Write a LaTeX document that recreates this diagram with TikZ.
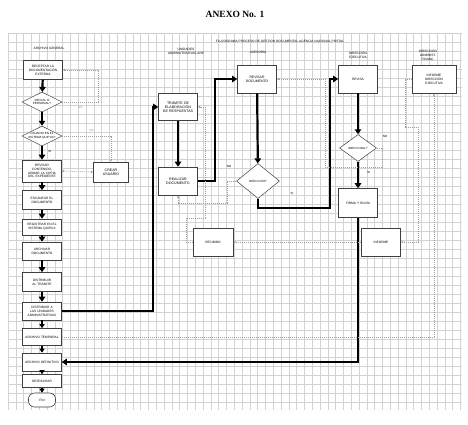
\documentclass[tikz,border=0pt]{standalone}
\usepackage{fontspec}
\setmainfont{Liberation Sans}
\newfontfamily\titulo{Liberation Serif}
\usetikzlibrary{shapes.geometric,arrows.meta}
\hyphenpenalty=10000
\exhyphenpenalty=10000
\tikzset{
  rejilla/.style={gray!35,line width=0.3pt},
  caja/.style={draw=black!75,fill=white,line width=0.6pt,align=center,
    minimum width=39pt,minimum height=19pt,text width=35pt,inner sep=0.5pt,
    font=\fontsize{3.2}{3.9}\selectfont},
  rombo/.style={diamond,draw=black!75,fill=white,line width=0.5pt,align=center,
    minimum width=40pt,minimum height=20pt,inner sep=0pt,aspect=2,
    font=\fontsize{3}{3.6}\selectfont},
  flujo/.style={line width=2.2pt,-{Triangle[length=5pt,width=6.5pt]}},
  flujom/.style={line width=1.4pt,-{Triangle[length=4pt,width=5pt]}},
  punt/.style={gray!75,line width=0.35pt,dash pattern=on 1.2pt off 0.8pt,
    -{Latex[length=2.2pt,width=2pt]}},
  etq/.style={font=\fontsize{3}{3.6}\selectfont},
  encab/.style={font=\fontsize{3.2}{3.9}\selectfont,align=center}
}
\begin{document}
\begin{tikzpicture}[x=1pt,y=-1pt]
\useasboundingbox[fill=white] (0,0) rectangle (468,424);
% rejilla de fondo
\foreach \gx in {8,15.8,...,462} \draw[rejilla] (\gx,33)--(\gx,410);
\foreach \gy in {33,42,...,410} \draw[rejilla] (8,\gy)--(462,\gy);
% titulos
\node (anexo) at (235,14) {\titulo\bfseries\fontsize{9.5}{11}\selectfont ANEXO No. 1};
\node[encab] (flujograma) at (280,41) {FLUJOGRAMA PROCESO DE GESTION DOCUMENTAL AGENCIA NACIONAL POSTAL};
\node[encab] (hArchivo) at (49,48) {ARCHIVO GENERAL};
\node[encab] (hUnidades) at (186,51) {UNIDADES\\ADMINISTRATIVAS ANP};
\node[encab] (hAsesoria) at (258,52) {ASESORÍA};
\node[encab] (hDireccion) at (358,55) {DIRECCIÓN\\EJECUTIVA};
\node[encab] (hFinanc) at (428,55) {DIRECCIÓN\\ADMINIST.\\FINANC.};
% archivo general
\node[caja] (rec) at (43,70) {RECEPTAR LA DOCUMENTACIÓN EXTERNA};
\node[rombo] (ofi) at (42,102) {OFICIAL O\\PERSONAL?};
\node[rombo] (usu) at (42,136) {USUARIO EN EL\\SISTEMA QUIPUX?};
\node[caja,minimum height=22pt] (revc) at (42,171) {REVISAR CONTENIDO, ARMAR LA COPIA DEL EXPEDIENTE};
\node[caja,minimum width=35pt,text width=30pt,minimum height=20pt,font=\fontsize{3.6}{4.4}\selectfont] (crear) at (111,172) {CREAR USUARIO};
\node[caja] (esc) at (42,200) {ESCANEAR EL DOCUMENTO};
\node[caja,minimum height=16pt] (reg) at (42,227) {REGISTRAR EN EL SISTEMA QUIPUX};
\node[caja,minimum height=18pt] (arch) at (42,251) {ARCHIVAR DOCUMENTO};
\node[caja] (dist) at (42,282) {DISTRIBUIR AL TRÁMITE};
\node[caja,minimum height=18pt] (distu) at (42,311) {DISTRIBUIR A LAS UNIDADES ADMINISTRATIVAS};
\node[caja,minimum height=17pt] (temp) at (42,337) {ARCHIVO TEMPORAL};
\node[caja,minimum height=18pt] (def) at (42,362) {ARCHIVO DEFINITIVO};
\node[caja,minimum height=13pt] (desp) at (42,381) {DESPACHAR};
\node[caja,rounded corners=6pt,minimum width=27pt,text width=20pt,minimum height=14pt] (fin) at (42,400) {FIN};
% unidades administrativas
\node[caja,minimum height=27pt,font=\fontsize{3.6}{4.4}\selectfont] (tram) at (178,107) {TRÁMITE DE ELABORACIÓN DE RESPUESTAS};
\node[caja,minimum height=28pt,font=\fontsize{3.6}{4.4}\selectfont] (real) at (178,181) {REALIZAR DOCUMENTO};
\node[caja,minimum width=40pt,minimum height=28pt] (recib) at (213,242) {RECIBIDO};
% asesoria
\node[caja,minimum height=28pt,font=\fontsize{3.4}{4.2}\selectfont] (revd) at (257,79) {REVISAR DOCUMENTO};
\node[rombo,minimum width=43pt,minimum height=35pt] (bno) at (258,181) {BIEN O NO?};
% direccion ejecutiva
\node[caja,minimum height=28pt] (revisa) at (358,79) {REVISA};
\node[rombo,minimum width=37pt,minimum height=27pt] (bmal) at (358,148) {BIEN O MAL?};
\node[caja,minimum height=29pt] (firma) at (358,203) {FIRMA Y ENVÍA};
\node[caja,minimum height=28pt] (inf) at (381,242) {INFORME};
% direccion administrativa financiera
\node[caja,minimum width=44pt,text width=22pt,minimum height=28pt] (infd) at (434,79) {INFORME DIRECCIÓN EJECUTIVA};
% flujo principal
\draw[flujo] (rec)--(ofi);
\draw[flujo] (ofi)--(usu);
\draw[flujo] (usu)--(revc) node[etq,pos=0.4,right=2pt]{SI};
\draw[flujo] (revc)--(esc);
\draw[flujo] (esc)--(reg);
\draw[flujo] (reg)--(arch);
\draw[flujo] (arch)--(dist);
\draw[flujo] (dist)--(distu);
\draw[flujom] (distu)--(temp);
\draw[flujom] (temp)--(def);
\draw[flujom] (def)--(desp);
\draw[flujom] (desp)--(fin);
\draw[punt] (ofi.east)--++(36,0) node[etq,pos=0.5,below=1pt]{NO} |- (rec.east);
\draw[punt] (usu.east) -| (crear.north) node[etq,pos=0.3,above=0.5pt]{NO};
\draw[punt,{Latex[length=2.2pt,width=2pt]}-{Latex[length=2.2pt,width=2pt]}] (revc.east)--(crear.west);
\draw[flujo] (distu.east)--++(91,0) |- (tram.west);
\draw[flujo] (tram)--(real);
\draw[flujo] (real.east)--++(17,0) |- (revd.west);
\draw[flujo] (revd)--(bno);
\coordinate (codoSi) at (330,208);
\draw[flujo] (bno.south) |- (codoSi) |- (revisa.west);
\node[etq] (siA) at (292,193) {SI};
\draw[punt] (bno.west)--++(-9,0)--++(0,22) -| (real.south);
\node[etq] (noA) at (229,166) {NO};
\draw[flujo] (revisa)--(bmal);
\draw[flujo] (bmal)--(firma) node[etq,pos=0.4,right=5pt]{SI};
\draw[punt] (bmal.east)--++(5,0)--++(0,19)--++(-57,0) |- (revd.east);
\node[etq] (noB) at (385,136) {NO};
\draw[flujo] (firma.south) |- (def.east);
\draw[punt] (inf.west)--(recib.east);
\coordinate (codoRec) at (205,218);
\draw[punt] (recib.west)--++(-7,0) |- (codoRec) |- (tram.east);
\draw[punt] (infd.west)--++(-7,0)--++(0,48)--++(13,0) |- (inf.east);
\draw[punt] (temp.east) -| (infd.south);
\end{tikzpicture}
\end{document}
